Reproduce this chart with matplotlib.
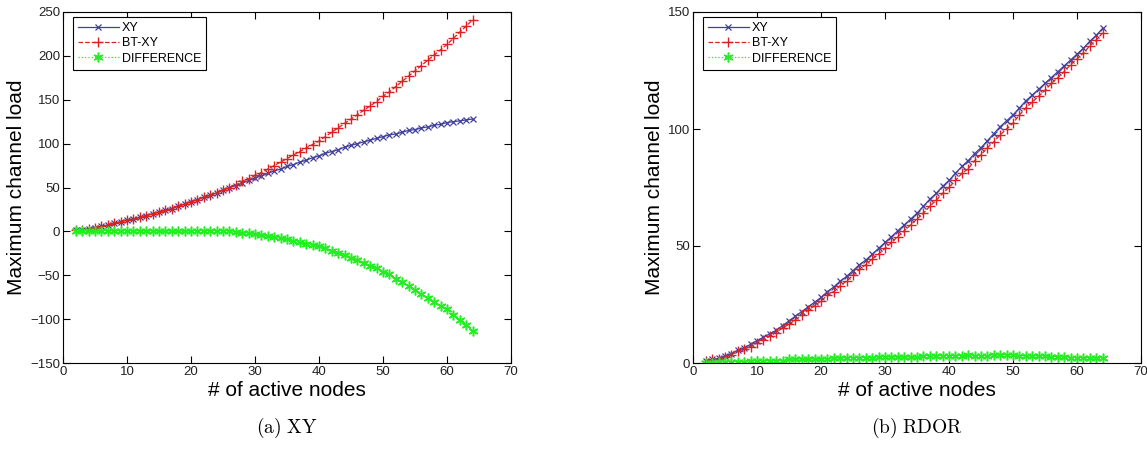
import matplotlib
matplotlib.use("Agg")
import matplotlib.pyplot as plt
import numpy as np

plt.rcParams['mathtext.fontset'] = 'cm'

nodes = list(range(2, 65))

# (a) XY routing
xy_a = [1, 2, 3, 4, 6, 7, 9, 11, 13, 14, 16, 18, 20, 22, 24, 26, 29, 31, 34,
        36, 39, 41, 44, 47, 50, 52, 55, 58, 61, 63, 66, 69, 71, 74, 76, 79, 81,
        84, 86, 89, 91, 93, 96, 98, 100, 102, 104, 106, 108, 110, 111, 113,
        115, 116, 118, 119, 121, 122, 124, 125, 126, 127, 128]
btxy_a = [1, 2, 3, 4, 6, 7, 9, 11, 13, 14, 16, 18, 20, 22, 24, 26, 29, 31, 34,
          36, 39, 41, 44, 47, 50, 53, 57, 60, 64, 67, 71, 75, 79, 83, 87, 91,
          95, 99, 103, 108, 113, 118, 123, 128, 133, 138, 143, 148, 154, 159,
          165, 171, 177, 183, 189, 195, 201, 207, 213, 220, 227, 234, 241]

# (b) RDOR routing
xy_b = [1, 1.5, 2, 3, 4, 5.5, 6.5, 8, 9.5, 11, 12.5, 14, 16, 18, 20, 22, 24,
        26, 28, 30.5, 32.5, 35, 37, 39.5, 42, 44, 46.5, 49, 51.5, 54, 56.5, 59,
        61.5, 64, 67, 70, 72.5, 75.5, 78, 81, 84, 86.5, 89.5, 92, 95, 98, 101,
        103.5, 106, 109, 112, 114.5, 117, 119.5, 122, 124.5, 127, 129.5, 132,
        134.5, 137.5, 140, 143]
btxy_b = [1, 1.5, 1.5, 2.5, 3.5, 5, 6, 7, 8.5, 10, 11.5, 13, 15, 16.5, 18.5,
          20.5, 22.5, 24.5, 26.5, 29, 30.5, 33, 35, 37.5, 40, 42, 44.5, 46.5,
          49, 51.5, 54, 56.5, 59, 61.5, 64, 67, 69.5, 72.5, 75, 78, 81, 83,
          86.5, 89, 92, 94.5, 97.5, 100, 102.5, 106, 109, 111.5, 114, 116.5,
          119.5, 122, 124.5, 127.5, 130, 132.5, 135.5, 138, 141]

panels = [
    ("(a)\\ XY", xy_a, btxy_a, (-150, 250), [-150, -100, -50, 0, 50, 100, 150, 200, 250]),
    ("(b)\\ RDOR", xy_b, btxy_b, (0, 150), [0, 50, 100, 150]),
]

fig = plt.figure(figsize=(11.47, 4.53), dpi=100)
lefts = [63 / 1147, 693 / 1147]
sans = ['Liberation Sans', 'DejaVu Sans']

for left, (cap, xy, bt, ylim, yticks) in zip(lefts, panels):
    ax = fig.add_axes([left, 90 / 453, 448 / 1147, 351 / 453])
    diff = np.array(xy) - np.array(bt)
    ax.plot(nodes, xy, color='#40409c', lw=0.9, marker='x', ms=4, mew=0.9, label='XY')
    ax.plot(nodes, bt, color='#dd2020', lw=0.9, ls='--', marker='+', ms=7, mew=1.0, label='BT-XY')
    ax.plot(nodes, diff, color='#22ee22', lw=0.9, ls=':', marker=(6, 2, 0), ms=7, mew=1.1,
            label='DIFFERENCE')
    ax.set_xlim(0, 70)
    ax.set_ylim(*ylim)
    ax.set_xticks(range(0, 71, 10))
    ax.set_yticks(yticks)
    ax.tick_params(direction='in', top=True, right=True, length=5, width=0.8,
                   labelsize=9.5, pad=2, labelcolor='#222222')
    for lab in ax.get_xticklabels() + ax.get_yticklabels():
        lab.set_family(sans)
    for s in ax.spines.values():
        s.set_linewidth(0.8)
    ax.set_xlabel('# of active nodes', fontsize=15, family=sans, labelpad=2)
    ax.set_ylabel('Maximum channel load', fontsize=15, family=sans, labelpad=3)
    leg = ax.legend(loc='upper left', bbox_to_anchor=(0.022, 0.985), fancybox=False,
                    edgecolor='black', framealpha=1, numpoints=1, handlelength=3.3,
                    prop={'family': sans, 'size': 9}, borderpad=0.4,
                    labelspacing=0.25, handletextpad=0.2, borderaxespad=0)
    leg.get_frame().set_linewidth(0.8)
    fig.text(left + 224 / 1147, 1 - 428 / 453, '$\\mathrm{' + cap + '}$',
             ha='center', va='center', fontsize=14)

fig.savefig('out.png', dpi=100)
